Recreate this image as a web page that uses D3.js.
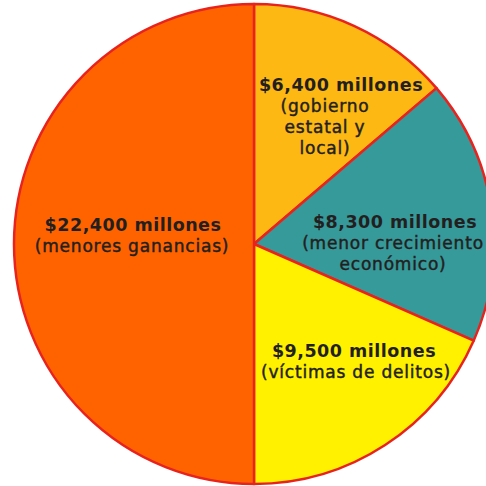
<!DOCTYPE html>
<html>
<head>
<meta charset="utf-8">
<script src="https://cdn.jsdelivr.net/npm/d3@7"></script>
<style>
  html, body { margin: 0; padding: 0; background: #fff; }
  svg { display: block; }
</style>
</head>
<body>
<div id="chart"></div>
<script>
// slices, clockwise from 12 o'clock
const categories = ["gobierno", "crecimiento", "victimas", "ganancias"];
// share of the circle as drawn (percent)
const shares = [13.75, 17.85, 18.4, 50];
const amounts = ["$6,400 millones", "$8,300 millones", "$9,500 millones", "$22,400 millones"];
const notes = [
  ["(gobierno", "estatal y", "local)"],
  ["(menor crecimiento", "económico)"],
  ["(víctimas de delitos)"],
  ["(menores ganancias)"],
];

const colors = ["#fdb813", "#36999a", "#fff100", "#ff6300"];

// label placement relative to pie centre
const labelPos = [
  { dx: 87, dy: -153, subDx: -16 },
  { dx: 141, dy: -16, subDx: -2 },
  { dx: 100, dy: 113, subDx: 2 },
  { dx: -121, dy: -13, subDx: -1 },
];

const width = 486, height = 486;
const cx = 254, cy = 244, radius = 240;

const svg = d3.select("#chart").append("svg")
  .attr("width", width)
  .attr("height", height);

const g = svg.append("g").attr("transform", `translate(${cx},${cy})`);

const pie = d3.pie().sort(null).startAngle(0).endAngle(2 * Math.PI);
const arc = d3.arc().innerRadius(0).outerRadius(radius);

const arcs = pie(shares);

g.selectAll("path.slice")
  .data(arcs)
  .join("path")
  .attr("class", "slice")
  .attr("d", arc)
  .attr("fill", (d, i) => colors[i])
  .attr("stroke", "#e8231e")
  .attr("stroke-width", 2.5)
  .attr("stroke-linejoin", "round");

// labels
const labels = g.selectAll("g.label")
  .data(categories)
  .join("g")
  .attr("class", "label")
  .attr("transform", (d, i) => `translate(${labelPos[i].dx},${labelPos[i].dy})`)
  .attr("font-family", "'DejaVu Sans', sans-serif")
  .attr("fill", "#231f20")
  .attr("text-anchor", "middle");

labels.append("text")
  .attr("font-size", 17.5)
  .attr("font-weight", "bold")
  .attr("letter-spacing", 0.5)
  .text((d, i) => amounts[i]);

labels.each(function (d, i) {
  d3.select(this).selectAll("text.note")
    .data(notes[i])
    .join("text")
    .attr("class", "note")
    .attr("x", labelPos[i].subDx)
    .attr("y", (t, j) => 21 * (j + 1))
    .attr("font-size", 17)
    .attr("letter-spacing", 0.8)
    .attr("stroke", "#231f20")
    .attr("stroke-width", 0.45)
    .text((t) => t);
});
</script>
</body>
</html>
